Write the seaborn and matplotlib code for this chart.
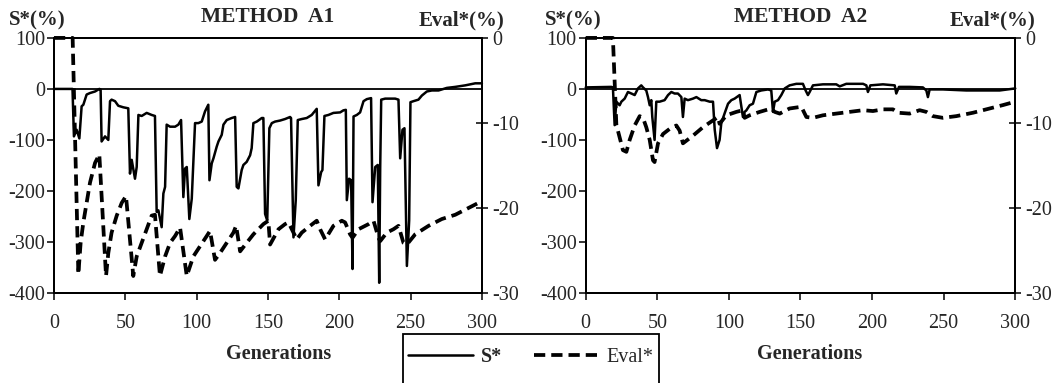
import matplotlib
matplotlib.use("Agg")
import matplotlib.pyplot as plt
from matplotlib.lines import Line2D
from matplotlib.patches import Rectangle
import seaborn as sns

# METHOD A1 - S* (solid, left axis)
a1_s_gen = [0, 13, 14.0, 15.9, 17.8, 19.4, 20.6, 22.9, 25.3, 28.8, 31.8, 32.7, 33.4, 35.8, 38.1,
            39.3, 40.4, 42.8, 45.1, 48.6, 52.1, 53.3, 54.5, 56.8, 58.0, 59.2, 61.5, 65.0, 68.5,
            70.8, 72.0, 73.2, 75.5, 76.7, 77.9, 79.0, 81.4, 84.9, 87.2, 89.1, 90.7, 91.9, 93.1,
            94.9, 96.6, 98.9, 101.2, 103.6, 105.9, 108.2, 109.0, 110.6, 111.8, 114.1, 115.3,
            117.6, 118.8, 121.1, 124.6, 127.0, 128.1, 129.3, 131.6, 132.8, 135.1, 137.5, 138.6,
            139.8, 142.2, 145.7, 146.8, 148.0, 149.5, 151.0, 152.7, 155.0, 158.5, 162.0, 165.5,
            166.2, 167.9, 169.5, 170.9, 173.7, 177.2, 180.7, 184.2, 185.4, 187.3, 188.2, 189.6,
            192.4, 195.9, 200.6, 202.9, 204.6, 205.3, 206.9, 208.3, 209.3, 210.0, 212.3, 214.6,
            217.0, 219.3, 222.3, 223.3, 225.2, 227.0, 228.0, 228.7, 229.4, 232.2, 239.2, 241.5,
            242.7, 244.3, 245.7, 247.4, 249.0, 249.9, 252.0, 255.5, 257.9, 261.4, 264.9, 269.6,
            275.4, 281.3, 288.3, 295.3, 300]
a1_s = [0, 0, -93, -80, -97, -34, -31, -11, -8, -5, 0, -1, -103, -93, -100,
        -24, -21, -24, -33, -36, -38, -166, -139, -176, -153, -51, -53, -47, -51,
        -53, -241, -238, -271, -205, -192, -70, -74, -74, -70, -61, -212, -156, -153,
        -255, -215, -67, -67, -64, -44, -31, -179, -146, -136, -113, -103,
        -90, -70, -61, -57, -55, -192, -195, -159, -149, -143, -130, -116,
        -67, -64, -57, -57, -245, -258, -77, -67, -64, -62, -59, -55,
        -57, -291, -218, -61, -59, -57, -51, -39, -189, -163, -159, -53,
        -51, -47, -46, -42, -41, -218, -176, -179, -353, -54, -51, -46,
        -24, -20, -18, -222, -153, -149, -380, -153, -21, -19, -19, -21,
        -136, -80, -77, -347, -258, -26, -24, -21, -13, -5, -3, -3,
        2, 4, 7, 11, 11]

# METHOD A1 - Eval* (dashed, right axis)
a1_e_gen = [0, 13.1, 17.1, 18.7, 20.6, 22.9, 25.3, 28.8, 31.8, 36.5, 38.1, 40.4, 44.0, 47.5,
            50.5, 55.6, 58.0, 61.5, 65.0, 68.5, 70.8, 74.3, 77.9, 81.4, 84.9, 88.4, 93.1, 97.7,
            102.4, 107.1, 109.4, 112.9, 116.4, 121.1, 125.8, 127.7, 130.5, 135.1, 139.8, 146.8,
            150.3, 151.5, 157.4, 162.0, 164.4, 167.9, 170.2, 173.7, 179.6, 184.2, 186.6, 190.1,
            195.9, 201.8, 204.1, 207.6, 209.3, 213.5, 220.5, 224.0, 227.5, 228.7, 233.3, 238.0,
            241.5, 245.0, 247.4, 253.2, 262.6, 271.9, 281.3, 290.6, 297.6, 300]
a1_eval = [0, 0, -27.8, -24.1, -21.7, -19.4, -17.0, -14.7, -13.7, -28.0, -25.3, -22.9, -20.9, -19.4,
           -18.6, -28.0, -25.7, -24.1, -22.5, -20.9, -20.8, -28.0, -25.7, -24.1, -23.3, -22.3, -28.0, -25.7,
           -24.5, -23.3, -22.7, -26.1, -25.3, -24.1, -22.9, -22.1, -25.1, -24.1, -23.1, -21.9,
           -21.5, -24.3, -22.5, -21.9, -21.7, -22.9, -23.7, -22.9, -22.1, -21.5, -22.5, -23.7,
           -22.1, -21.5, -21.7, -23.1, -23.5, -22.5, -21.9, -21.5, -23.5, -23.9, -22.9, -22.5,
           -22.1, -24.1, -24.3, -23.1, -22.1, -21.3, -20.8, -20.0, -19.4, -19.3]

# METHOD A2 - S*
a2_s_gen = [0, 17.9, 19.0, 20.2, 21.4, 23.7, 24.9, 27.2, 29.5, 31.9, 34.2, 36.5, 38.8, 40.0,
            42.3, 43.5, 44.7, 45.8, 46.5, 48.1, 49.3, 51.6, 55.1, 57.5, 59.8, 62.1, 64.4, 66.8,
            67.9, 69.1, 71.4, 74.9, 77.3, 80.7, 83.1, 86.6, 88.9, 90.1, 91.7, 93.5, 94.7, 97.0,
            99.4, 101.7, 104.0, 107.5, 109.8, 111.0, 112.2, 114.5, 116.8, 119.2, 122.6, 127.3,
            129.6, 130.8, 132.0, 134.3, 136.6, 139.0, 142.4, 147.1, 151.7, 153.6, 155.2, 156.4,
            158.7, 165.7, 175.0, 177.4, 182.0, 193.7, 196.0, 197.1, 198.8, 207.6, 215.8, 216.9,
            218.8, 226.2, 235.5, 237.9, 239.0, 240.2, 249.5, 265.8, 289.1, 300]
a2_s = [3, 4, 3, -71, -25, -32, -25, -19, -6, -9, -12, 1, 7, 3,
        -3, -16, -32, -22, -55, -100, -25, -25, -22, -12, -6, -9, -9, -16,
        -55, -19, -22, -19, -16, -22, -22, -25, -25, -80, -116, -100, -67, -48,
        -29, -22, -19, -12, -55, -45, -42, -32, -29, -6, -3, -1,
        -3, -45, -25, -22, -12, 1, 7, 10, 10, -3, -12, -6,
        7, 9, 9, 5, 10, 10, 7, -6, 7, 9, 7, -9,
        4, 4, 3, -3, -16, -1, -1, -3, -3, 1]

# METHOD A2 - Eval*
a2_e_gen = [0, 19.0, 21.4, 26.0, 28.4, 30.7, 34.2, 37.7, 40.0, 42.3, 44.7, 47.0, 48.1, 50.5,
            54.0, 58.6, 63.3, 65.6, 67.9, 74.9, 81.9, 88.9, 92.4, 93.5, 98.2, 105.2, 109.8,
            111.0, 114.5, 121.5, 129.6, 132.0, 135.5, 142.4, 150.6, 154.1, 158.7, 165.7, 175.0,
            184.3, 193.7, 200.6, 207.6, 214.6, 218.1, 226.2, 233.2, 237.9, 242.5, 249.5, 258.8,
            270.5, 282.1, 291.4, 300]
a2_eval = [0, 0, -10.2, -13.2, -13.4, -12.0, -10.3, -9.2, -9.4, -10.5, -12.0, -14.4, -14.6, -12.4,
           -11.3, -10.7, -10.3, -10.9, -12.4, -11.5, -10.5, -9.7, -9.3, -10.1, -9.1, -8.7, -8.5,
           -9.4, -9.1, -8.7, -8.3, -8.7, -8.9, -8.3, -8.1, -9.3, -9.4, -9.1, -8.9,
           -8.7, -8.5, -8.6, -8.4, -8.4, -8.8, -8.9, -8.5, -8.7, -9.2, -9.4, -9.2,
           -8.8, -8.3, -7.9, -7.5]

s_ticks = [100, 0, -100, -200, -300, -400]
eval_ticks = [0, -10, -20, -30]
gen_ticks = [0, 50, 100, 150, 200, 250, 300]

sns.set_style("ticks")
plt.rcParams['font.family'] = ['Liberation Serif', 'DejaVu Serif']
plt.rcParams['axes.unicode_minus'] = False

DASH = (0, (3, 1.6))
TICK_FS = 14.5

fig = plt.figure(figsize=(10.58, 3.83), dpi=100)


def draw_panel(rect, s_gen, s_val, e_gen, e_val, title, s_lab_x, e_lab_x, xlab_x):
    ax = fig.add_axes(rect)
    ax.axhline(0, color='black', lw=1.3)
    sns.lineplot(x=s_gen, y=s_val, ax=ax, color='black', lw=1.8,
                 estimator=None, sort=False, clip_on=False)
    ax.set_xlim(0, 300)
    ax.set_ylim(-400, 100)
    ax.set_xticks(gen_ticks)
    ax.set_yticks(s_ticks)
    ax.tick_params(axis='x', direction='out', length=5, width=1.3, pad=10, labelsize=TICK_FS)
    ax.tick_params(axis='y', direction='out', length=5, width=1.3, pad=1.5, labelsize=TICK_FS)
    for sp in ax.spines.values():
        sp.set_linewidth(1.4)
        sp.set_color('black')

    axr = ax.twinx()
    sns.lineplot(x=e_gen, y=e_val, ax=axr, color='black', lw=2.7, linestyle=DASH,
                 estimator=None, sort=False, clip_on=False)
    axr.set_ylim(-30, 0)
    axr.set_yticks(eval_ticks)
    axr.tick_params(axis='y', direction='inout', length=9, width=1.3, pad=3, labelsize=TICK_FS)
    for sp in axr.spines.values():
        sp.set_linewidth(1.4)
        sp.set_color('black')
    axr.set_ylabel('')
    ax.set_ylabel('')

    ax.set_xlabel('Generations', fontweight='bold', fontsize=14.5)
    ax.xaxis.set_label_coords(xlab_x, -0.2)
    ax.text(0.5, 1.082, title, transform=ax.transAxes, ha='center', va='center',
            fontweight='bold', fontsize=15.5)
    ax.text(s_lab_x, 1.067, 'S*(%)', transform=ax.transAxes, ha='center', va='center',
            fontweight='bold', fontsize=15)
    ax.text(e_lab_x, 1.067, 'Eval*(%)', transform=ax.transAxes, ha='center', va='center',
            fontweight='bold', fontsize=15)
    return ax


draw_panel([0.051, 0.235, 0.4045, 0.666], a1_s_gen, a1_s, a1_e_gen, a1_eval,
           'METHOD  A1', -0.040, 0.953, 0.526)
draw_panel([0.5536, 0.235, 0.406, 0.666], a2_s_gen, a2_s, a2_e_gen, a2_eval,
           'METHOD  A2', -0.030, 0.948, 0.522)

handles = [Line2D([], [], color='black', lw=1.8),
           Line2D([], [], color='black', lw=2.7, linestyle=DASH)]
leg = fig.legend(handles, ['S*', 'Eval*'], loc='center', bbox_to_anchor=(0.502, 0.068),
                 ncol=2, frameon=False, handlelength=3.2, columnspacing=1.6,
                 handletextpad=0.4, fontsize=14.5)
leg.get_texts()[0].set_fontweight('bold')
fig.add_artist(Rectangle((0.381, -0.1), 0.242, 0.228, transform=fig.transFigure,
                         fill=False, lw=1.3, ec='black', clip_on=False))

fig.savefig('out.png', dpi=100)
